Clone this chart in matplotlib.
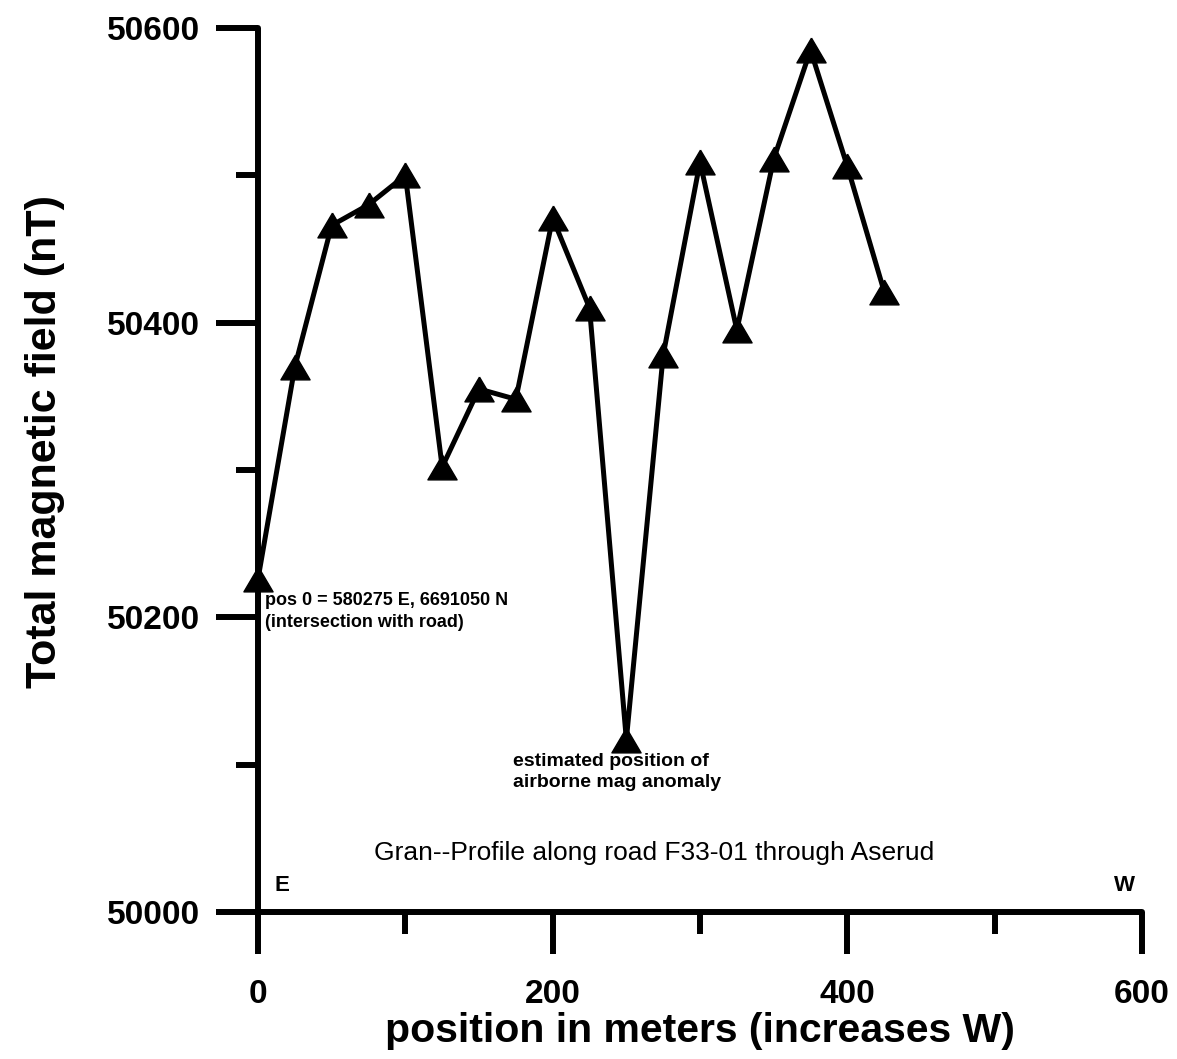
import matplotlib

matplotlib.use("Agg")
import matplotlib.pyplot as plt
from matplotlib.ticker import MultipleLocator

plt.rcParams.update({
    "font.family": ["Liberation Sans", "DejaVu Sans"],
    "font.weight": "bold",
    "axes.labelweight": "bold",
})

# profile readings, every 25 m along the road
position_m = [0, 25, 50, 75, 100, 125, 150, 175, 200, 225, 250, 275, 300, 325, 350, 375, 400, 425]
field_nT = [50226, 50370, 50466, 50480, 50500, 50302, 50355, 50348, 50471, 50410,
            50117, 50378, 50509, 50395, 50511, 50585, 50506, 50421]

x_ticks = [0, 200, 400, 600]
y_ticks = [50000, 50200, 50400, 50600]

TRI = [(0, 0.85), (-1, -0.85), (1, -0.85), (0, 0.85)]

fig = plt.figure(figsize=(11.77, 10.59), dpi=100)
ax = fig.add_axes([0.2192, 0.1388, 0.7511, 0.8348])

ax.plot(position_m, field_nT, color="black", linewidth=3.6, marker=TRI, markersize=21,
        markerfacecolor="black", markeredgecolor="black", clip_on=False, zorder=3)

ax.set_xlim(0, 600)
ax.set_ylim(50000, 50600)
ax.set_xticks(x_ticks)
ax.set_yticks(y_ticks)
ax.xaxis.set_minor_locator(MultipleLocator(100))
ax.yaxis.set_minor_locator(MultipleLocator(100))

for s in ("top", "right"):
    ax.spines[s].set_visible(False)
for s in ("left", "bottom"):
    ax.spines[s].set_linewidth(4.3)
    ax.spines[s].set_capstyle("round")

ax.tick_params(which="major", direction="out", length=30, width=4.3, pad=12, labelsize=24)
ax.tick_params(axis="x", which="major", pad=18)
ax.tick_params(which="minor", direction="out", length=16, width=4.3)

ax.set_xlabel("position in meters (increases W)", fontsize=29.5, labelpad=2)
ax.set_ylabel("Total magnetic field (nT)", fontsize=31)
ax.yaxis.set_label_coords(-0.218, 0.532)

ax.text(4.8, 50217, "pos 0 = 580275 E, 6691050 N\n(intersection with road)", fontsize=13,
        va="top", ha="left", linespacing=1.4)
ax.text(173, 50108, "estimated position of\nairborne mag anomaly", fontsize=14,
        va="top", ha="left", linespacing=1.3)
ax.text(269, 50040, "Gran--Profile along road F33-01 through Aserud", fontsize=19,
        fontweight="normal", ha="center", va="center")
ax.text(11.5, 50018, "E", fontsize=16, ha="left", va="center")
ax.text(588, 50018, "W", fontsize=16, ha="center", va="center")

fig.savefig("out.png", dpi=100)
